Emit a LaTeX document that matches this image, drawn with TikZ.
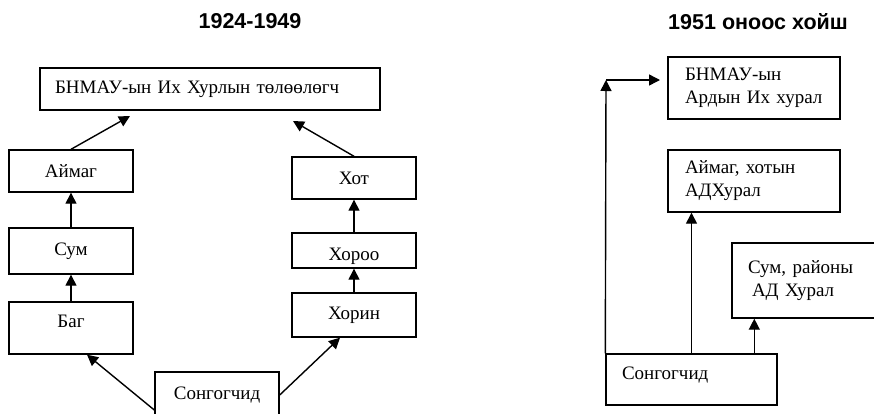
\documentclass[tikz,border=0pt]{standalone}
\usepackage{fontspec}
\setmainfont{Liberation Serif}
\newfontfamily\headfont{Liberation Sans}
\usetikzlibrary{arrows,shapes}
\usetikzlibrary{arrows.meta,positioning}

\begin{document}
\begin{tikzpicture}[x=1pt,y=-1pt,>={Triangle[length=11pt,width=11pt]},line width=1.4pt,
	box/.style={draw,rectangle,inner sep=0pt,minimum width=124pt,font=\fontsize{19}{23}\selectfont},
	wide/.style={box,align=left,inner xsep=16pt},
	head/.style={font=\headfont\bfseries\fontsize{21.5}{24}\selectfont}]

	\useasboundingbox (0,0) rectangle (874,413);

	\node [head] at (250,21)	(t_old)		{1924-1949};
	\node [head] at (758,22)	(t_new)		{1951 оноос хойш};

	% 1924-1949
	\node [wide, text width=310pt, inner xsep=15pt, minimum height=42pt] at (210,89)	(rep)	{БНМАУ-ын Их Хурлын төлөөлөгч};
	\node [box, minimum height=42pt] at (71,171)		(aimag)		{Аймаг};
	\node [box, minimum height=46pt] at (71,251)		(sum)		{Сум};
	\node [box, text height=25pt, text depth=27pt] at (71,328)		(bag)		{Баг};
	\node [box, minimum height=42pt] at (354,178)		(hot)		{Хот};
	\node [box, text height=27pt, text depth=8pt] at (354,250.5)		(horoo)		{Хороо};
	\node [box, minimum height=44pt] at (354,315)		(horin)		{Хорин};
	\node [box, minimum height=46pt] at (217,395)		(voters_a)	{Сонгогчид};

	% 1951 onoos hoish
	\node [wide, text width=144pt, inner xsep=14pt, minimum height=62pt] at (754,88)		(khural)	{\hspace{3pt}БНМАУ-ын\\\hspace{3pt}Ардын Их хурал};
	\node [wide, text width=144pt, inner xsep=14pt, minimum height=62pt] at (754,181)	(aimag_k)	{\hspace{3pt}Аймаг, хотын\\\hspace{3pt}АДХурал};
	\node [wide, text width=114pt, minimum height=75pt] at (805,280.5)	(sum_k)		{Сум, районы\\\hspace{4pt}АД Хурал};
	\node [wide, text width=139pt, inner ysep=0pt, text height=25pt, text depth=26pt] at (691.5,379.5)	(voters_b)	{Сонгогчид};

	\coordinate (rep_l)	at (130,116);
	\coordinate (rep_r)	at (293,121);
	\coordinate (bend)	at (606,80);
	\coordinate (into)	at (660,80);
	\coordinate (sk)	at ([xshift=23pt]sum_k.south west);

	\path [->]	(aimag.north)	edge	(rep_l)
				(hot.north)		edge	(rep_r)
				(sum.north)		edge	(aimag.south)
				(bag.north)		edge	(sum.south)
				(horoo.north)	edge	(hot.south)
				(horin.north)	edge	(horoo.south)
				([yshift=-15pt]voters_a.west)	edge	([xshift=16pt]bag.south)
				(voters_a.east)	edge	([xshift=-14pt]horin.south)
				(voters_b.north west)	edge	(bend)
				(bend)			edge	(into)
				(voters_b.north)	edge	(voters_b.north |- aimag_k.south)
				(sk |- voters_b.north)	edge	(sk);

\end{tikzpicture}
\end{document}
